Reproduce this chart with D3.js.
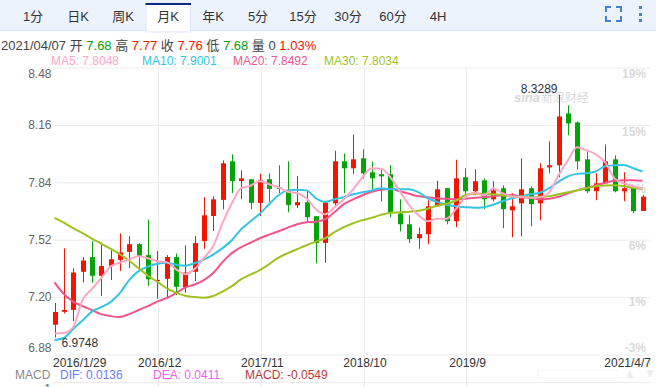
<!DOCTYPE html>
<html>
<head>
<meta charset="utf-8">
<script src="https://cdn.jsdelivr.net/npm/d3@7"></script>
<style>
html, body { margin: 0; padding: 0; background: #fff; overflow: hidden; }
svg { display: block; font-family: "Liberation Sans", "Noto Sans CJK SC", sans-serif; }
.grid line { stroke: #ececec; }
.grid path { display: none; }
</style>
</head>
<body>
<div id="chart"></div>
<script>
const tabs = ['1分', '日K', '周K', '月K', '年K', '5分', '15分', '30分', '60分', '4H'];
const activeTab = '月K';

// monthly candles, oldest first
const opens = [7.046,7.118,7.129,7.341,7.423,7.319,7.374,7.408,7.452,7.495,7.434,7.289,7.302,7.423,7.254,7.341,
  7.513,7.652,7.742,7.957,7.847,7.857,7.725,7.857,7.811,7.798,7.712,7.729,7.651,7.502,7.723,7.957,
  7.918,7.974,7.896,7.885,7.885,7.666,7.606,7.528,7.551,7.706,7.807,7.623,7.868,7.790,7.851,7.745,
  7.807,7.684,7.723,7.807,7.723,7.923,7.935,8.224,8.174,7.968,7.790,7.834,7.968,7.790,7.812,7.68];
const closes = [7.117,7.128,7.337,7.404,7.319,7.373,7.411,7.449,7.495,7.430,7.299,7.296,7.423,7.257,7.337,7.501,
  7.656,7.745,7.946,7.847,7.862,7.725,7.851,7.803,7.803,7.714,7.729,7.645,7.502,7.727,7.957,7.918,
  7.968,7.890,7.862,7.873,7.669,7.606,7.523,7.551,7.706,7.801,7.623,7.862,7.790,7.846,7.745,7.795,
  7.690,7.706,7.801,7.718,7.918,7.935,8.207,8.168,7.957,7.790,7.834,7.957,7.790,7.807,7.679,7.76];
const lows = [6.975,7.109,7.066,7.282,7.280,7.207,7.295,7.346,7.361,7.350,7.263,7.191,7.194,7.211,7.224,7.289,
  7.469,7.569,7.690,7.780,7.745,7.690,7.652,7.730,7.780,7.673,7.697,7.617,7.388,7.391,7.701,7.779,
  7.886,7.861,7.801,7.733,7.645,7.567,7.501,7.469,7.495,7.706,7.606,7.590,7.751,7.768,7.690,7.734,
  7.584,7.534,7.539,7.595,7.629,7.890,7.868,8.102,7.912,7.779,7.740,7.834,7.784,7.734,7.667,7.68];
const highs = [7.168,7.471,7.360,7.423,7.512,7.504,7.462,7.555,7.539,7.502,7.632,7.456,7.434,7.443,7.488,7.541,
  7.757,7.762,7.962,7.996,7.907,7.857,7.888,7.890,7.935,7.957,7.875,7.792,7.651,7.729,8.016,8.000,
  8.107,8.024,7.955,7.912,7.935,7.745,7.656,7.588,7.740,7.849,7.807,7.966,7.918,7.912,7.862,7.846,
  7.823,7.779,7.974,7.818,7.946,8.068,8.329,8.269,8.179,8.013,7.890,8.051,7.990,7.896,7.812,7.77];

const ma5 = [6.997,7.000,7.033,7.183,7.245,7.306,7.370,7.392,7.409,7.428,7.417,7.400,7.395,7.356,7.328,7.356,
  7.417,7.484,7.612,7.723,7.807,7.821,7.846,7.829,7.812,7.787,7.779,7.751,7.690,7.662,7.701,7.745,
  7.801,7.868,7.918,7.915,7.868,7.790,7.712,7.656,7.623,7.637,7.637,7.690,7.757,7.782,7.768,7.807,
  7.779,7.762,7.757,7.754,7.757,7.784,7.879,7.962,8.035,8.018,7.996,7.951,7.862,7.834,7.818,7.805];
const ma10 = [6.961,6.972,7.022,7.069,7.119,7.144,7.172,7.222,7.295,7.345,7.370,7.386,7.392,7.381,7.375,7.389,
  7.409,7.437,7.473,7.517,7.578,7.623,7.665,7.718,7.768,7.795,7.798,7.795,7.751,7.731,7.745,7.757,
  7.773,7.784,7.795,7.807,7.801,7.801,7.801,7.784,7.751,7.731,7.715,7.706,7.701,7.698,7.701,7.715,
  7.734,7.751,7.762,7.773,7.782,7.807,7.843,7.873,7.887,7.890,7.901,7.929,7.935,7.937,7.918,7.900];
const ma20 = [7.282,7.217,7.175,7.150,7.128,7.105,7.094,7.089,7.105,7.128,7.150,7.175,7.194,7.222,7.253,7.270,
  7.295,7.334,7.395,7.445,7.478,7.503,7.528,7.548,7.567,7.587,7.606,7.617,7.620,7.634,7.673,7.718,
  7.745,7.768,7.787,7.798,7.804,7.790,7.776,7.762,7.757,7.751,7.748,7.745,7.748,7.754,7.757,7.762,
  7.768,7.770,7.757,7.754,7.745,7.748,7.759,7.779,7.795,7.809,7.823,7.837,7.848,7.851,7.851,7.849];
const ma30 = [7.642,7.615,7.584,7.556,7.526,7.498,7.470,7.439,7.403,7.361,7.320,7.286,7.250,7.225,7.208,7.200,
  7.196,7.206,7.231,7.261,7.300,7.325,7.350,7.384,7.420,7.445,7.467,7.489,7.509,7.528,7.562,7.590,
  7.612,7.629,7.642,7.659,7.670,7.673,7.676,7.681,7.693,7.709,7.720,7.737,7.768,7.776,7.776,7.773,
  7.768,7.762,7.759,7.757,7.759,7.762,7.773,7.784,7.795,7.807,7.818,7.822,7.823,7.818,7.809,7.803];

const priceTicks = [8.48, 8.16, 7.84, 7.52, 7.2, 6.88];
const pctLabels = ['19%', '15%', '10%', '6%', '1%', '-3%'];
const dateTicks = [0, 11, 22, 33, 44, 63];
const dateLabels = ['2016/1/29', '2016/12', '2017/11', '2018/10', '2019/9', '2021/4/7'];
const gridMonths = [11, 22, 33, 44];

const maSeries = [
  { name: 'MA20', values: ma20, color: '#f2558c', last: '7.8492', at: 233 },
  { name: 'MA10', values: ma10, color: '#33c4e6', last: '7.9001', at: 142 },
  { name: 'MA30', values: ma30, color: '#9fc21f', last: '7.8034', at: 324 },
  { name: 'MA5', values: ma5, color: '#ffa6c4', last: '7.8048', at: 51 },
];

const width = 657, height = 387;
const upColor = '#f41500', downColor = '#05a30a';

const svg = d3.select('#chart').append('svg').attr('width', width).attr('height', height);

// tab bar
svg.append('rect').attr('width', 656).attr('height', 30).attr('fill', '#edf3fd');
svg.append('rect').attr('y', 30).attr('width', 656).attr('height', 1).attr('fill', '#dce6f7');
const tabX = d3.scalePoint().domain(tabs).range([33, 438]);
svg.append('rect').attr('x', tabX(activeTab) - 22).attr('y', 3).attr('width', 44.5).attr('height', 29)
  .attr('fill', '#fff').attr('stroke', '#dce6f7');
svg.append('rect').attr('x', tabX(activeTab) - 22.5).attr('y', 3).attr('width', 45.5).attr('height', 2).attr('fill', '#0c2a80');
svg.append('g').selectAll('text').data(tabs).join('text')
  .attr('x', d => tabX(d)).attr('y', 21).attr('text-anchor', 'middle')
  .attr('font-size', 13).attr('fill', '#333').text(d => d);

// fullscreen and menu icons
svg.append('path')
  .attr('d', 'M606 12V7H611M616 7H621V12M621 16V21H616M611 21H606V16')
  .attr('fill', 'none').attr('stroke', '#4a7fd0').attr('stroke-width', 2);
svg.append('g').selectAll('rect').data([6, 13, 19]).join('rect')
  .attr('x', 639).attr('y', d => d).attr('width', 3).attr('height', 3).attr('fill', '#4a7fd0');

// info rows
const info = svg.append('text').attr('x', 1).attr('y', 50).attr('font-size', 13).attr('fill', '#444');
[['2021/04/07 开 ', '#444'], ['7.68', '#05a30a'], [' 高 ', '#444'], ['7.77', '#f41500'], [' 收 ', '#444'], ['7.76', '#f41500'],
  [' 低 ', '#444'], ['7.68', '#05a30a'], [' 量 0 ', '#444'], ['1.03%', '#f41500']]
  .forEach(([t, c]) => info.append('tspan').attr('fill', c).attr('xml:space', 'preserve').text(t));

svg.append('g').selectAll('text').data(maSeries).join('text')
  .attr('x', d => d.at).attr('y', 65).attr('font-size', 12).attr('fill', d => d.color)
  .text(d => `${d.name}: ${d.last}`);

const xScale = d3.scaleLinear().domain([0, 63]).range([54.5, 642.5]);
const yScale = d3.scaleLinear().domain([6.88, 8.48]).range([354.5, 67.5]);

// grid
const plotLeft = 52, plotRight = 650;
svg.append('g').attr('class', 'grid')
  .selectAll('line').data(gridMonths).join('line')
  .attr('x1', d => Math.round(xScale(d)) + 1.5).attr('x2', d => Math.round(xScale(d)) + 1.5)
  .attr('y1', 68).attr('y2', 387);

const yAxis = svg.append('g').attr('class', 'grid')
  .attr('transform', `translate(${plotLeft}.5,0)`)
  .call(d3.axisLeft(yScale).tickValues(priceTicks).tickSize(-(plotRight - plotLeft)).tickPadding(1)
    .tickFormat(d => d.toFixed(2)));
yAxis.selectAll('text').attr('font-size', 12).attr('font-family', 'inherit').attr('fill', '#666')
  .attr('dy', d => d === 8.48 ? '0.85em' : d === 6.88 ? '-0.25em' : '0.32em');

svg.append('line').attr('x1', plotLeft).attr('x2', plotRight).attr('y1', 382.5).attr('y2', 382.5).attr('stroke', '#ececec');

// percent labels sit just under their lines
const yRight = svg.append('g')
  .attr('transform', `translate(${plotRight},0)`)
  .call(d3.axisRight(yScale).tickValues(priceTicks).tickSize(0).tickPadding(-4)
    .tickFormat((d, i) => pctLabels[i]));
yRight.select('.domain').remove();
yRight.selectAll('text').attr('text-anchor', 'end').attr('font-size', 12).attr('font-family', 'inherit')
  .attr('fill', '#d9d9d9').attr('font-weight', 'bold')
  .attr('dy', d => d === 6.88 ? '-0.25em' : d === 7.2 ? '0.7em' : '0.85em');

// watermark
const mark = svg.append('g').attr('fill', '#d9d9d9');
mark.append('text').attr('x', 514).attr('y', 102).attr('font-size', 13).attr('font-weight', 'bold').attr('font-style', 'italic').text('sina');
mark.append('text').attr('x', 541).attr('y', 102).attr('font-size', 12).text('新浪财经');

// candles
const months = d3.range(opens.length);
const candles = svg.append('g');
candles.selectAll('line').data(months).join('line')
  .attr('x1', d => Math.round(xScale(d)) + 0.5).attr('x2', d => Math.round(xScale(d)) + 0.5)
  .attr('y1', d => yScale(highs[d])).attr('y2', d => yScale(lows[d]))
  .attr('stroke', d => closes[d] >= opens[d] ? upColor : downColor);
candles.selectAll('rect').data(months).join('rect')
  .attr('x', d => Math.round(xScale(d)) - 2).attr('width', 5)
  .attr('y', d => yScale(Math.max(opens[d], closes[d])))
  .attr('height', d => Math.max(1, Math.abs(yScale(opens[d]) - yScale(closes[d]))))
  .attr('fill', d => closes[d] >= opens[d] ? upColor : downColor);

// moving averages
const maLine = d3.line().x((d, i) => xScale(i)).y(d => yScale(d)).curve(d3.curveMonotoneX);
svg.append('g').selectAll('path').data(maSeries).join('path')
  .attr('d', d => maLine(d.values)).attr('fill', 'none')
  .attr('stroke', d => d.color).attr('stroke-width', 2);

// high and low callouts
const highIdx = d3.greatestIndex(highs), lowIdx = d3.leastIndex(lows);
svg.append('text').attr('x', xScale(highIdx) - 1).attr('y', yScale(highs[highIdx]) - 2)
  .attr('text-anchor', 'end').attr('font-size', 12).attr('fill', '#333').text('8.3289');
svg.append('text').attr('x', xScale(lowIdx) + 7).attr('y', yScale(lows[lowIdx]) + 10)
  .attr('font-size', 12).attr('fill', '#333').text('6.9748');

// date axis
const xAxis = svg.append('g').attr('transform', 'translate(0,355)')
  .call(d3.axisBottom(xScale).tickValues(dateTicks).tickSize(0).tickPadding(3)
    .tickFormat((d, i) => dateLabels[i]));
xAxis.select('.domain').remove();
xAxis.selectAll('text').attr('font-size', 12).attr('font-family', 'inherit').attr('fill', '#333')
  .attr('text-anchor', d => d === 0 ? 'start' : d === 63 ? 'end' : 'middle')
  .attr('dx', d => d === 0 ? -2 : d === 63 ? 8 : 2);

// MACD legend row
const macdRow = [
  { t: 'MACD', x: 15, c: '#888' },
  { t: 'DIF: 0.0136', x: 60, c: '#6a7cff' },
  { t: 'DEA: 0.0411', x: 153, c: '#f060ee' },
  { t: 'MACD: -0.0549', x: 245, c: '#b83a3a' },
];
svg.append('g').selectAll('text').data(macdRow).join('text')
  .attr('x', d => d.x).attr('y', 379).attr('font-size', 12).attr('fill', d => d.c).text(d => d.t);
svg.append('text').attr('x', 51).attr('y', 393).attr('text-anchor', 'end').attr('font-size', 12).attr('fill', '#666').text('1');

// range slider stub at the bottom right
svg.append('rect').attr('x', 538).attr('y', 370).attr('width', 79).attr('height', 8)
  .attr('fill', 'none').attr('stroke', '#eeeeee').attr('stroke-dasharray', '1 1');
svg.append('path').attr('d', 'M626 378L630 370L634 378Z M646 370L654 370L650 378Z').attr('fill', '#eeeeee');
</script>
</body>
</html>
